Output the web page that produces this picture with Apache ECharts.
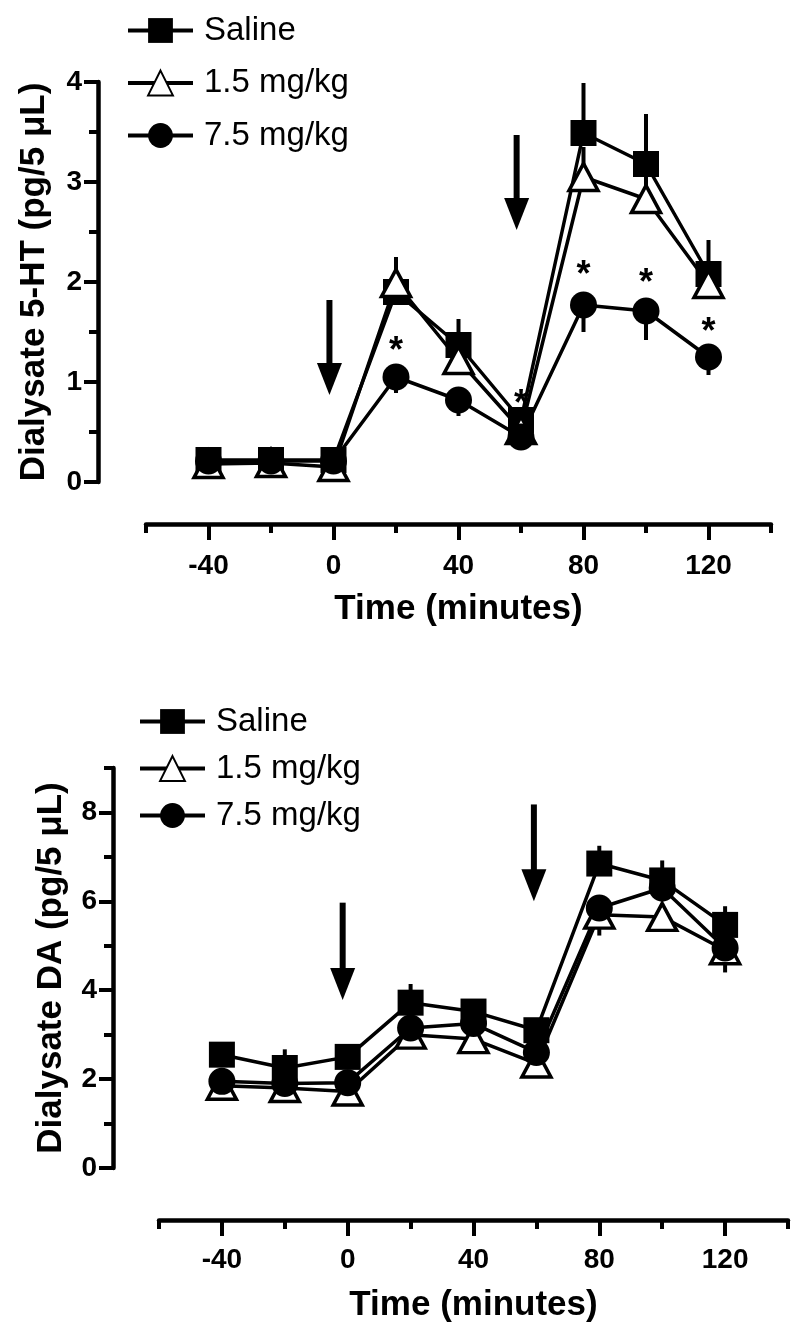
<!DOCTYPE html>
<html>
<head>
<meta charset="utf-8">
<script src="https://cdn.jsdelivr.net/npm/echarts@6/dist/echarts.min.js"></script>
<style>
html,body{margin:0;padding:0;background:#fff;}
#c{width:800px;height:1338px;}
</style>
</head>
<body>
<div id="c"></div>
<script>
// ---- data ----
var times = [-40, -20, 0, 20, 40, 60, 80, 100, 120];
var seriesNames = ['Saline', '1.5 mg/kg', '7.5 mg/kg'];

// Panel A: Dialysate 5-HT (pg/5 uL)
var salineHT = [0.22, 0.22, 0.22, 1.90, 1.37, 0.62, 3.49, 3.18, 2.08];
var salineHTErr = [0.02, 0.02, 0.02, 0.10, 0.26, 0.08, 0.50, 0.50, 0.34];
var low15HT = [0.18, 0.19, 0.15, 1.99, 1.22, 0.52, 3.05, 2.83, 1.98];
var low15HTErr = [0.02, 0.02, 0.02, 0.26, 0.10, 0.15, 0.30, 0.30, 0.10];
var high75HT = [0.21, 0.21, 0.21, 1.05, 0.82, 0.45, 1.77, 1.71, 1.25];
var high75HTErr = [0.02, 0.02, 0.02, 0.16, 0.16, 0.05, 0.27, 0.29, 0.18];
var starTimesHT = [20, 60, 80, 100, 120];
var starLevelsHT = [1.36, 0.83, 2.12, 2.04, 1.55];
var arrowTimesHT = [-1.3, 58.6];
var arrowTopsHT = [1.82, 3.47];
var arrowTipsHT = [0.87, 2.52];

// Panel B: Dialysate DA (pg/5 uL)
var salineDA = [2.55, 2.25, 2.50, 3.72, 3.52, 3.10, 6.85, 6.47, 5.47];
var salineDAErr = [0.10, 0.42, 0.10, 0.42, 0.20, 0.15, 0.40, 0.45, 0.42];
var low15DA = [1.85, 1.80, 1.72, 3.00, 2.90, 2.35, 5.70, 5.65, 4.90];
var low15DAErr = [0.10, 0.10, 0.10, 0.20, 0.25, 0.20, 0.30, 0.30, 0.20];
var high75DA = [1.95, 1.90, 1.92, 3.15, 3.25, 2.60, 5.85, 6.30, 4.95];
var high75DAErr = [0.10, 0.10, 0.10, 0.42, 0.25, 0.15, 0.62, 0.30, 0.55];
var arrowTimesDA = [-1.6, 59.2];
var arrowTopsDA = [5.97, 8.18];
var arrowTipsDA = [3.78, 6.00];

// axis ticks
var xMajorTicks = [-40, 0, 40, 80, 120];
var xMinorTicks = [-60, -20, 20, 60, 100, 140];
var yMajorTicksHT = [0, 1, 2, 3, 4];
var yMinorTicksHT = [0.5, 1.5, 2.5, 3.5];
var yMajorTicksDA = [0, 2, 4, 6, 8];
var yMinorTicksDA = [1, 3, 5, 7, 9];

// ---- chart ----
var FONT = "'Liberation Sans', Arial, Helvetica, sans-serif";
var BLACK = '#000';

function pairs(xs, ys) { return xs.map(function (x, i) { return [x, ys[i]]; }); }
function errData(xs, ys, es, dir) { return xs.map(function (x, i) { return [x, ys[i], ys[i] + dir * es[i]]; }); }

function mainX(gi, offset, margin) {
  return {
    type: 'value', gridIndex: gi, position: 'bottom', min: -60, max: 140, offset: offset,
    axisLine: { show: true, onZero: false, lineStyle: { color: BLACK, width: 4.5 } },
    axisTick: { show: true, customValues: xMajorTicks, length: 16, lineStyle: { color: BLACK, width: 4 } },
    axisLabel: { show: true, customValues: xMajorTicks, margin: margin, color: BLACK, fontFamily: FONT, fontWeight: 'bold', fontSize: 28 },
    splitLine: { show: false },
    name: 'Time (minutes)', nameLocation: 'middle', nameGap: 68,
    nameTextStyle: { color: BLACK, fontFamily: FONT, fontWeight: 'bold', fontSize: 35 }
  };
}
function minorX(gi, offset) {
  return {
    type: 'value', gridIndex: gi, position: 'bottom', min: -60, max: 140, offset: offset,
    axisLine: { show: false, onZero: false },
    axisTick: { show: true, customValues: xMinorTicks, length: 9, lineStyle: { color: BLACK, width: 4 } },
    axisLabel: { show: false }, splitLine: { show: false }
  };
}
function mainY(gi, max, major, offset, name, gap) {
  return {
    type: 'value', gridIndex: gi, position: 'left', min: 0, max: max, offset: offset,
    axisLine: { show: true, onZero: false, lineStyle: { color: BLACK, width: 4.5 } },
    axisTick: { show: true, customValues: major, length: 14, lineStyle: { color: BLACK, width: 4 } },
    axisLabel: { show: true, customValues: major, margin: 16, color: BLACK, fontFamily: FONT, fontWeight: 'bold', fontSize: 28 },
    splitLine: { show: false },
    name: name, nameLocation: 'middle', nameRotate: 90, nameGap: gap,
    nameTextStyle: { color: BLACK, fontFamily: FONT, fontWeight: 'bold', fontSize: 35 }
  };
}
function minorY(gi, max, minor, offset) {
  return {
    type: 'value', gridIndex: gi, position: 'left', min: 0, max: max, offset: offset,
    axisLine: { show: false, onZero: false },
    axisTick: { show: true, customValues: minor, length: 9, lineStyle: { color: BLACK, width: 4 } },
    axisLabel: { show: false }, splitLine: { show: false }
  };
}

function lineSeries(name, xi, yi, data, kind) {
  var s = {
    type: 'line', name: name, xAxisIndex: xi, yAxisIndex: yi, data: data,
    lineStyle: { color: BLACK, width: 3.5 }, showAllSymbol: true, animation: false, z: 3
  };
  if (kind === 'square') {
    s.symbol = 'rect'; s.symbolSize = 26;
    s.itemStyle = { color: BLACK, borderColor: BLACK, borderWidth: 0 };
  } else if (kind === 'triangle') {
    s.symbol = 'triangle'; s.symbolSize = [29, 27];
    s.itemStyle = { color: '#fff', borderColor: BLACK, borderWidth: 3.5 };
  } else {
    s.symbol = 'circle'; s.symbolSize = 27;
    s.itemStyle = { color: BLACK, borderColor: BLACK, borderWidth: 0 };
  }
  return s;
}

function errSeries(xi, yi, data) {
  return {
    type: 'custom', xAxisIndex: xi, yAxisIndex: yi, data: data, z: 2, silent: true, animation: false,
    renderItem: function (params, api) {
      var p0 = api.coord([api.value(0), api.value(1)]);
      var p1 = api.coord([api.value(0), api.value(2)]);
      return { type: 'line', shape: { x1: p0[0], y1: p0[1], x2: p1[0], y2: p1[1] },
        style: { stroke: BLACK, lineWidth: 4 } };
    }
  };
}

function arrowSeries(xi, yi, xs, tops, tips) {
  var data = xs.map(function (x, i) { return [x, tops[i], tips[i]]; });
  return {
    type: 'custom', xAxisIndex: xi, yAxisIndex: yi, data: data, z: 4, silent: true, animation: false,
    renderItem: function (params, api) {
      var top = api.coord([api.value(0), api.value(1)]);
      var tip = api.coord([api.value(0), api.value(2)]);
      var hh = 32, hw = 12.5;
      return { type: 'group', children: [
        { type: 'line', shape: { x1: top[0], y1: top[1], x2: tip[0], y2: tip[1] - hh + 2 },
          style: { stroke: BLACK, lineWidth: 6 } },
        { type: 'polygon', shape: { points: [[tip[0] - hw, tip[1] - hh], [tip[0] + hw, tip[1] - hh], [tip[0], tip[1]]] },
          style: { fill: BLACK } }
      ] };
    }
  };
}

function starSeries(xi, yi, xs, ys) {
  return {
    type: 'custom', xAxisIndex: xi, yAxisIndex: yi, data: pairs(xs, ys), z: 1, silent: true, animation: false,
    renderItem: function (params, api) {
      var p = api.coord([api.value(0), api.value(1)]);
      return { type: 'text', x: p[0], y: p[1] + 6,
        style: { text: '*', fill: BLACK, fontFamily: FONT, fontWeight: 'bold', fontSize: 36, align: 'center', verticalAlign: 'middle' } };
    }
  };
}

var legendCommon = {
  orient: 'vertical', itemWidth: 65, itemHeight: 31, padding: 0,
  lineStyle: { width: 4, color: BLACK },
  textStyle: { color: BLACK, fontFamily: FONT, fontSize: 33, padding: [0, 0, 0, 6] },
  selectedMode: false, data: seriesNames
};

var option = {
  backgroundColor: '#fff',
  animation: false,
  grid: [
    { left: 146, right: 29, top: 82, height: 400 },
    { left: 159, right: 12, top: 768, height: 400 }
  ],
  legend: [
    Object.assign({}, legendCommon, { left: 126, top: 14, itemGap: 19.5 }),
    Object.assign({}, legendCommon, { left: 138, top: 705, itemGap: 14 })
  ],
  xAxis: [mainX(0, 42, 28), minorX(0, 42), mainX(1, 52, 26), minorX(1, 52)],
  yAxis: [
    mainY(0, 4, yMajorTicksHT, 48, 'Dialysate 5-HT (pg/5 μL)', 46),
    minorY(0, 4, yMinorTicksHT, 48),
    mainY(1, 9, yMajorTicksDA, 46, 'Dialysate DA (pg/5 μL)', 44),
    minorY(1, 9, yMinorTicksDA, 46)
  ],
  series: [
    errSeries(0, 0, errData(times, salineHT, salineHTErr, 1)),
    errSeries(0, 0, errData(times, low15HT, low15HTErr, 1)),
    errSeries(0, 0, errData(times, high75HT, high75HTErr, -1)),
    lineSeries('Saline', 0, 0, pairs(times, salineHT), 'square'),
    lineSeries('1.5 mg/kg', 0, 0, pairs(times, low15HT), 'triangle'),
    lineSeries('7.5 mg/kg', 0, 0, pairs(times, high75HT), 'circle'),
    arrowSeries(0, 0, arrowTimesHT, arrowTopsHT, arrowTipsHT),
    starSeries(0, 0, starTimesHT, starLevelsHT),

    errSeries(2, 2, errData(times, salineDA, salineDAErr, 1)),
    errSeries(2, 2, errData(times, low15DA, low15DAErr, 1)),
    errSeries(2, 2, errData(times, high75DA, high75DAErr, -1)),
    lineSeries('Saline', 2, 2, pairs(times, salineDA), 'square'),
    lineSeries('1.5 mg/kg', 2, 2, pairs(times, low15DA), 'triangle'),
    lineSeries('7.5 mg/kg', 2, 2, pairs(times, high75DA), 'circle'),
    arrowSeries(2, 2, arrowTimesDA, arrowTopsDA, arrowTipsDA)
  ]
};

var chart = echarts.init(document.getElementById('c'), null, { renderer: 'canvas' });
chart.setOption(option);
</script>
</body>
</html>
